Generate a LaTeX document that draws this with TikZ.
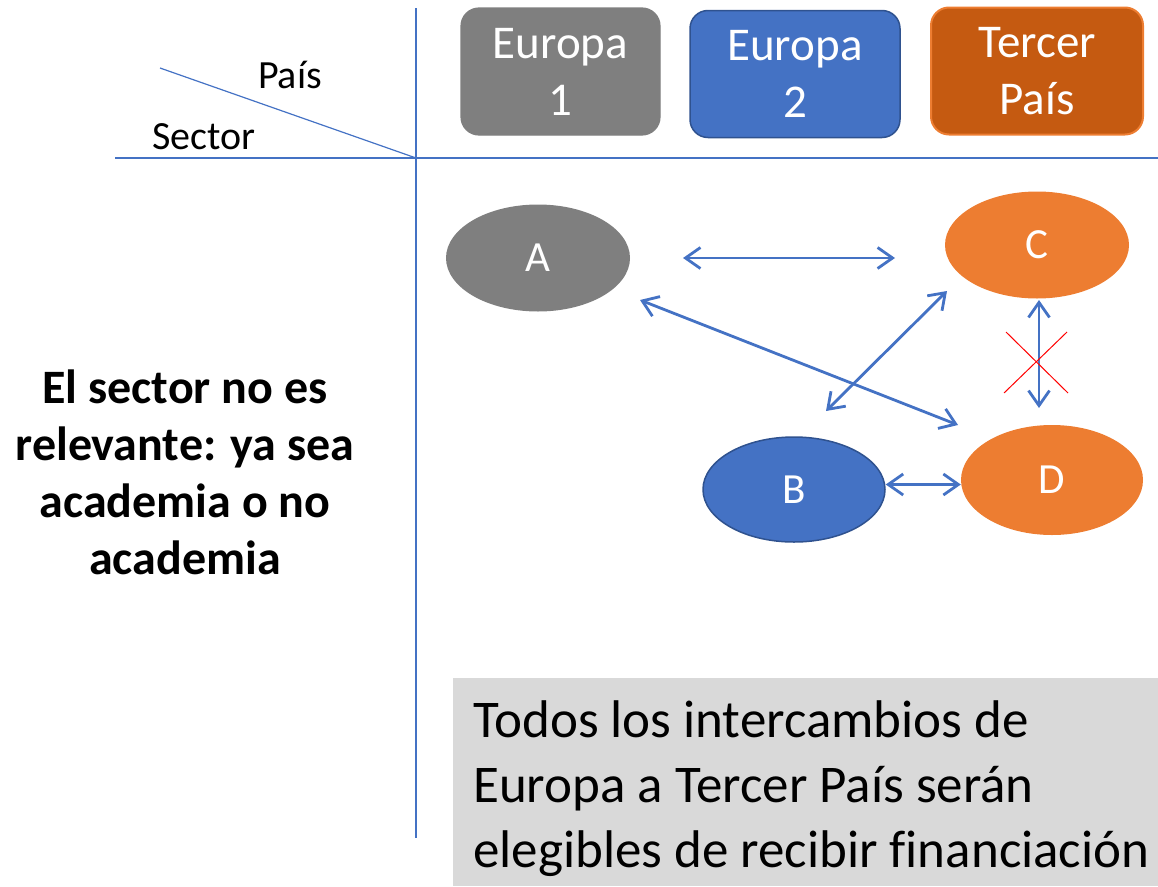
\documentclass[tikz,border=0pt]{standalone}
\usepackage{fontspec}
\setmainfont{Carlito}[Ligatures=NoCommon]
\usetikzlibrary{arrows.meta,shapes.geometric}
\definecolor{gry}{HTML}{7F7F7F}
\definecolor{blu}{HTML}{4472C4}
\definecolor{bluD}{HTML}{2F528F}
\definecolor{orn}{HTML}{ED7D31}
\definecolor{ornD}{HTML}{C55A11}
\definecolor{lgry}{HTML}{D9D9D9}
\tikzset{
  axis/.style={draw=blu, line width=1.2pt},
  hdr/.style={rounded corners=18pt, minimum width=#1, minimum height=127pt, align=center, text=white, font=\fontsize{47}{57}\selectfont, inner sep=0pt},
  ell/.style={ellipse, minimum width=184pt, minimum height=107pt, text=white, font=\fontsize{43}{50}\selectfont, inner sep=0pt},
  conn/.style={draw=blu, line width=2.8pt, {Straight Barb[length=15pt,width=21pt]}-{Straight Barb[length=15pt,width=21pt]}},
}
\begin{document}
\begin{tikzpicture}[x=1pt,y=-1pt]
\useasboundingbox (0,0) rectangle (1158,886);
% grid lines
\coordinate (vt) at (416,8);
\coordinate (vb) at (416,838);
\coordinate (hl) at (115,158);
\coordinate (hr) at (1158,158);
\coordinate (dg) at (160,68);
\coordinate (cr) at (416,158);
\draw[axis] (vt) -- (vb);
\draw[axis] (hl) -- (hr);
\draw[axis] (dg) -- (cr);
\node[font=\fontsize{40}{48}\selectfont, anchor=base] (pais) at (290,88) {País};
\node[font=\fontsize{40}{48}\selectfont, anchor=base] (sector) at (204,149) {Sector};
% headers
\node[hdr=199pt, fill=gry, draw=gry, line width=1.2pt] (e1) at (560.5,71.5) {Europa\\1};
\node[hdr=210pt, fill=blu, draw=bluD, line width=1.5pt] (e2) at (795,74) {Europa\\2};
\node[hdr=212pt, fill=ornD, draw=orn, line width=2pt] (tp) at (1037,71) {Tercer\\País};
% ellipses
\node[ell, fill=gry] (A) at (538,258) {A};
\node[ell, fill=orn] (C) at (1037,245) {C};
\node[ell, fill=orn, minimum width=182pt, minimum height=110pt] (D) at (1052,480) {D};
\node[ell, fill=blu, draw=bluD, line width=1.5pt, minimum width=182pt, minimum height=105pt] (B) at (794,489.5) {B};
% connectors
\coordinate (ac1) at (683,258);
\coordinate (ac2) at (895,258);
\draw[conn] (ac1) -- (ac2);
\coordinate (ad1) at (640,300);
\coordinate (ad2) at (958,425);
\draw[conn] (ad1) -- (ad2);
\coordinate (cb1) at (947,291);
\coordinate (cb2) at (826,411);
\draw[conn] (cb1) -- (cb2);
\coordinate (cd1) at (1039,300);
\coordinate (cd2) at (1039,408);
\draw[conn] (cd1) -- (cd2);
\draw[conn] ([yshift=5pt]B.east) -- ([yshift=5pt]B.east -| D.west);
% red cross
\coordinate (x1) at (1006,332);
\coordinate (x2) at (1068,393);
\coordinate (x3) at (1067,332);
\coordinate (x4) at (1004,393);
\draw[red, line width=1pt] (x1) -- (x2);
\draw[red, line width=1pt] (x3) -- (x4);
% left text
\node[font=\bfseries\fontsize{48}{57}\selectfont, align=center, anchor=center] (lt) at (185,472) {El sector no es\\relevante: ya sea\\academia o no\\academia};
% bottom box
\node[fill=lgry, minimum width=705pt, minimum height=208pt, anchor=north west, inner sep=0pt] (bx) at (453,678) {};
\node[font=\fontsize{53}{65}\selectfont, align=left, anchor=north west, inner sep=0pt] (bt) at (473,700) {Todos los intercambios de\\Europa a Tercer País serán\\elegibles de recibir financiación};
\end{tikzpicture}
\end{document}
